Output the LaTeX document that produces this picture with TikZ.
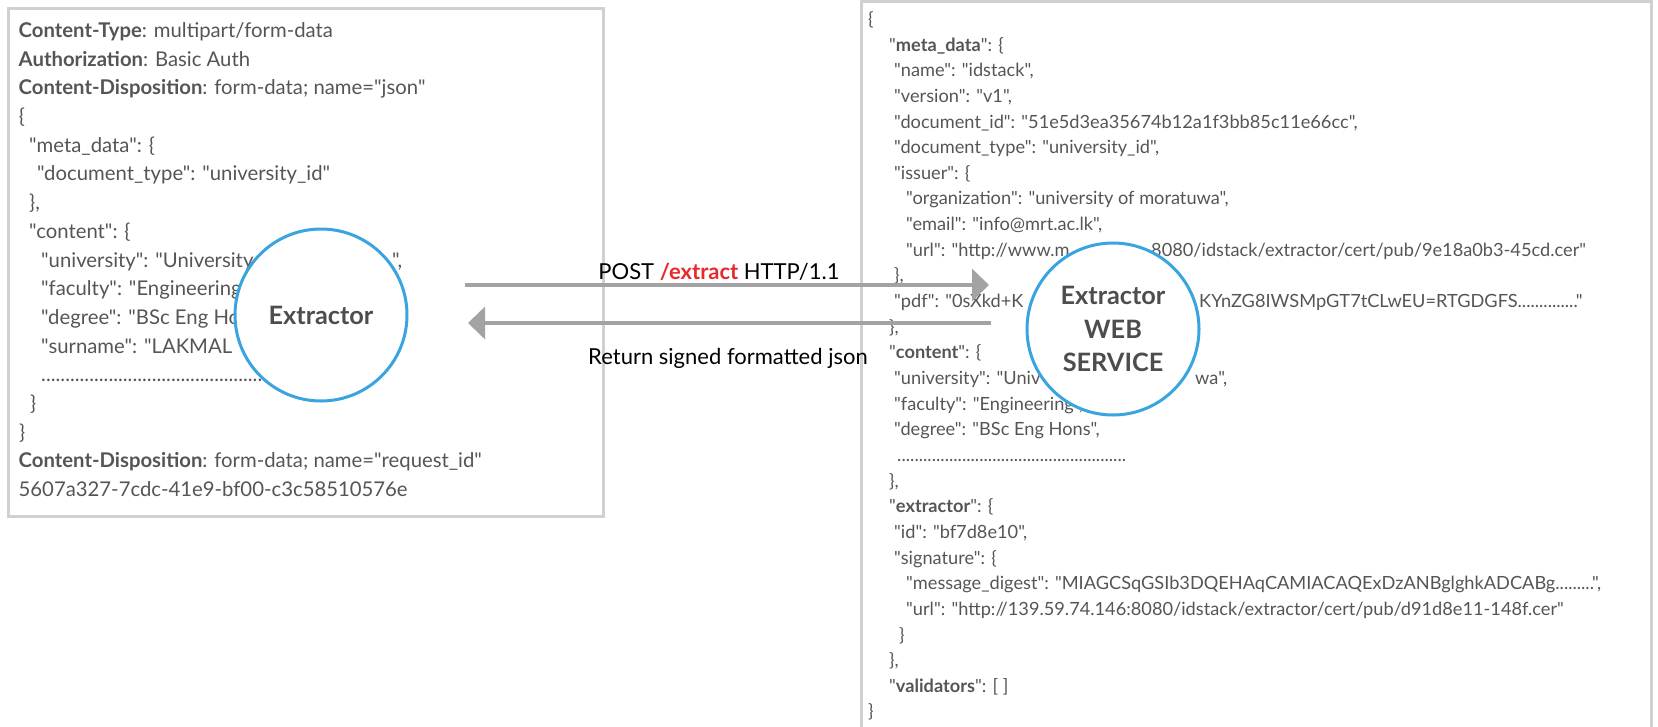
\documentclass[tikz,border=0pt]{standalone}
\usepackage{fontspec}
\setmainfont{Lato}[Ligatures=TeXOff]
\usetikzlibrary{arrows.meta}
\definecolor{txt}{HTML}{555555}
\definecolor{ttl}{HTML}{4D4D4D}
\definecolor{cblue}{HTML}{3AA4DF}
\definecolor{agray}{HTML}{A3A3A3}
\definecolor{bgray}{HTML}{D0D0D0}
\definecolor{ered}{HTML}{E8292B}
\newcommand\dotrun[1]{\hbox to #1{\xleaders\hbox{.}\hfill}}
\begin{document}
\begin{tikzpicture}[x=1pt,y=-1pt,
  box/.style={draw=bgray,line width=3pt},
  ltxt/.style={anchor=base west,inner sep=0pt,text=txt,font=\fontsize{20.3}{24}\selectfont},
  rtxt/.style={anchor=base west,inner sep=0pt,text=txt,font=\fontsize{18.2}{22}\selectfont},
  hub/.style={circle,draw=cblue,line width=3pt,fill=white,minimum size=172pt,inner sep=0pt,text=ttl,font=\fontsize{25.3}{33.5}\selectfont\bfseries,align=center},
  flow/.style={draw=agray,line width=3.5pt,-{Triangle[length=17pt,width=32pt]}},
  lbl/.style={inner sep=0pt,font=\fontsize{22}{26}\selectfont,text=black}]
\useasboundingbox (0,0) rectangle (1658,726);
% boxes
\draw[box] (8.5,8.5) rectangle (603,516);
\draw[box] (861,740) -- (861,1.5) -- (1651.5,1.5) -- (1651.5,740);
% left text
\foreach \x/\t [count=\i] in {
  18.5/{\textbf{Content-Type}: multipart/form-data},
  18.5/{\textbf{Authorization}: Basic Auth},
  18.5/{\textbf{Content-Disposition}: form-data; name="json"},
  18.7/{\{},
  29/{"meta\_data": \{},
  37/{"document\_type": "university\_id"},
  29/{\},},
  29/{"content": \{},
  41/{\rlap{"university": "University of}\hspace*{351pt}",},
  41/{"faculty": "Engineering",},
  41/{"degree": "BSc Eng Hons",},
  41/{"surname": "LAKMAL},
  41/{\dotrun{250pt}},
  30/{\}},
  19/{\}},
  18.5/{\textbf{Content-Disposition}: form-data; name="request\_id"},
  18.5/{5607a327-7cdc-41e9-bf00-c3c58510576e}}
  \node[ltxt] (l\i) at (\x,{37.4+28.7*(\i-1)}) {\t};
% right text
\foreach \x/\t [count=\i] in {
  868/{\{},
  889/{"\textbf{meta\_data}": \{},
  894/{"name": "idstack",},
  894/{"version": "v1",},
  894/{"document\_id": "51e5d3ea35674b12a1f3bb85c11e66cc",},
  894/{"document\_type": "university\_id",},
  894/{"issuer": \{},
  906/{"organization": "university of moratuwa",},
  906/{"email": "info@mrt.ac.lk",},
  906/{\rlap{"url": "http://www.m}\hspace*{245pt}8080/idstack/extractor/cert/pub/9e18a0b3-45cd.cer"},
  894/{\},},
  894/{\rlap{"pdf": "0sXkd+K}\hspace*{305pt}KYnZG8IWSMpGT7tCLwEU=RTGDGFS.............."},
  889/{\},},
  889/{"\textbf{content}": \{},
  894/{\rlap{"university": "Univ}\hspace*{301pt}wa",},
  894/{"faculty": "Engineering",},
  894/{"degree": "BSc Eng Hons",},
  897/{\dotrun{229pt}},
  889/{\},},
  889/{"\textbf{extractor}": \{},
  894/{"id": "bf7d8e10",},
  894/{"signature": \{},
  906/{"message\_digest": "MIAGCSqGSIb3DQEHAqCAMIACAQExDzANBglghkADCABg.........",},
  906/{"url": "http://139.59.74.146:8080/idstack/extractor/cert/pub/d91d8e11-148f.cer"},
  899/{\}},
  889/{\},},
  889/{"\textbf{validators}": [ ]},
  868/{\}}}
  \node[rtxt] (r\i) at (\x,{25.4+25.65*(\i-1)}) {\t};
% connectors
\coordinate (p1) at (465,285);
\coordinate (p2) at (989,285);
\coordinate (q1) at (991,323);
\coordinate (q2) at (468,323);
\draw[flow] (p1) -- (p2);
\draw[flow] (q1) -- (q2);
\node[lbl] (post) at (719,272) {POST \textcolor{ered}{\textbf{/extract}} HTTP/1.1};
\node[lbl] (ret) at (728,358) {Return signed formatted json};
% hubs
\node[hub] (ext) at (321,315) {Extractor};
\node[hub] (ws) at (1113,329) {Extractor\\WEB\\SERVICE};
\end{tikzpicture}
\end{document}
